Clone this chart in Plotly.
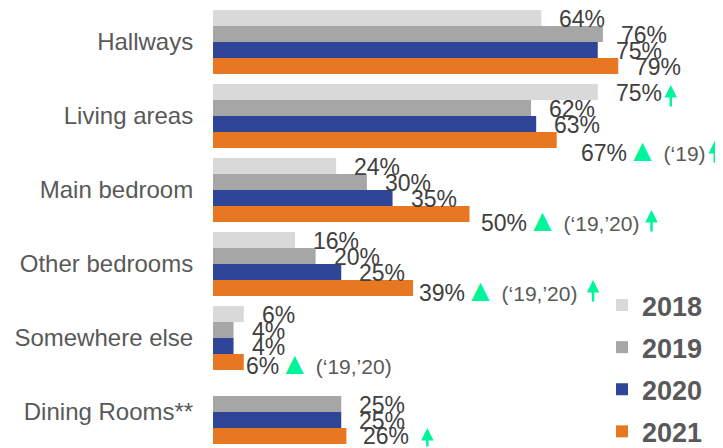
import plotly.graph_objects as go

# ---------------- data ----------------
categories = ["Hallways", "Living areas", "Main bedroom", "Other bedrooms",
              "Somewhere else", "Dining Rooms**"]
years = ["2018", "2019", "2020", "2021"]
v2018 = [64, 75, 24, 16, 6, None]
v2019 = [76, 62, 30, 20, 4, 25]
v2020 = [75, 63, 35, 25, 4, 25]
v2021 = [79, 67, 50, 39, 6, 26]
sig_triangle_2021 = [False, True, True, True, True, False]
sig_note_2021 = ["", "(‘19)", "(‘19,’20)", "(‘19,’20)", "(‘19,’20)", ""]
up_arrow_2018 = [False, True, False, False, False, False]
up_arrow_2021 = [False, True, True, True, False, True]

series = [v2018, v2019, v2020, v2021]
arrow_flags = {0: up_arrow_2018, 3: up_arrow_2021}

# ---------------- style ----------------
colors = ["#D9D9D9", "#A6A6A6", "#2E4598", "#E87722"]
GREEN = "#00F59A"
LABEL_C = "#404040"
GREY = "#595959"
FONT = "Liberation Sans, Arial, sans-serif"
BARGAP = 0.135
slot = (1 - BARGAP) / 4
PX_PER_UNIT = 5.13          # px per percentage point
ROW_PX = 74                 # px per category row
L_MARGIN = 205
PLOT_W = 723 - L_MARGIN
PLOT_H = 448
# label pixel nudges (2018-2020 uniform; 2021 per category)
xs_default = 16
ys_default = -1
xs_2021 = [15, 22, 9, 4, 0, 15]
ys_2021 = [-1, -10, -6, -2, -1, 0]
# arrow placement: px right of bar end, px of tip above bar centre
arrow_dx = {0: [0, 73, 0, 0, 0, 0], 3: [0, 158, 182, 180, 0, 81]}
arrow_up = {0: [0, 7, 0, 0, 0, 0], 3: [0, -1, 4, 8, 0, 8]}
ARROW_LEN = 23

ypos = list(range(len(categories)))
y_top = -0.5 + BARGAP / 2 - 2 / ROW_PX
y_bot = y_top + PLOT_H / ROW_PX

fig = go.Figure()
for k, (yr, vals) in enumerate(zip(years, series)):
    fig.add_trace(go.Bar(
        y=ypos, x=vals, name=yr, orientation="h",
        marker=dict(color=colors[k], line=dict(width=0)),
        legendgroup=yr, hoverinfo="skip",
    ))

annotations = []
tri = f"<span style='color:{GREEN};font-size:31px'>▲</span>"
for k, vals in enumerate(series):
    for c, v in enumerate(vals):
        if v is None:
            continue
        ybar = c + (k - 1.5) * slot
        txt = f"{v}%"
        xs, ys = xs_default, ys_default
        if k == 3:
            xs, ys = xs_2021[c], ys_2021[c]
            if sig_triangle_2021[c]:
                txt += tri
            if sig_note_2021[c]:
                txt += (f"<span style='color:{GREY};font-size:21px'>"
                        f"\u00a0{sig_note_2021[c]}</span>")
        annotations.append(dict(
            x=v, y=ybar, xref="x", yref="y",
            text=txt, showarrow=False, xanchor="left", yanchor="middle",
            xshift=xs, yshift=ys,
            font=dict(family=FONT, size=23, color=LABEL_C),
        ))
        if k in arrow_flags and arrow_flags[k][c]:
            annotations.append(dict(
                x=v, y=ybar, xref="x", yref="y", text="",
                showarrow=True, arrowhead=2, arrowsize=1, arrowwidth=2.5,
                arrowcolor=GREEN, ax=0, ay=ARROW_LEN, axref="pixel", ayref="pixel",
                standoff=0, startstandoff=0,
                xshift=arrow_dx[k][c], yshift=arrow_up[k][c],
            ))

fig.update_layout(
    width=723, height=448,
    margin=dict(l=L_MARGIN, r=0, t=0, b=0),
    paper_bgcolor="white", plot_bgcolor="white",
    barmode="group", bargap=BARGAP, bargroupgap=0,
    font=dict(family=FONT),
    showlegend=True,
    legend=dict(
        x=0.751, y=0.390, xanchor="left", yanchor="top",
        traceorder="grouped", tracegroupgap=4,
        font=dict(family=FONT, size=27, color=GREY, weight="bold"),
        bgcolor="rgba(0,0,0,0)",
    ),
    annotations=annotations,
)
fig.update_xaxes(range=[0, PLOT_W / PX_PER_UNIT], visible=False, showgrid=False)
fig.update_yaxes(
    range=[y_bot, y_top], tickvals=ypos, ticktext=categories,
    showgrid=False, zeroline=False, showline=False,
    ticks="outside", ticklen=14, tickcolor="rgba(0,0,0,0)",
    tickfont=dict(family=FONT, size=24, color=GREY),
)

fig.write_html("out.html")
